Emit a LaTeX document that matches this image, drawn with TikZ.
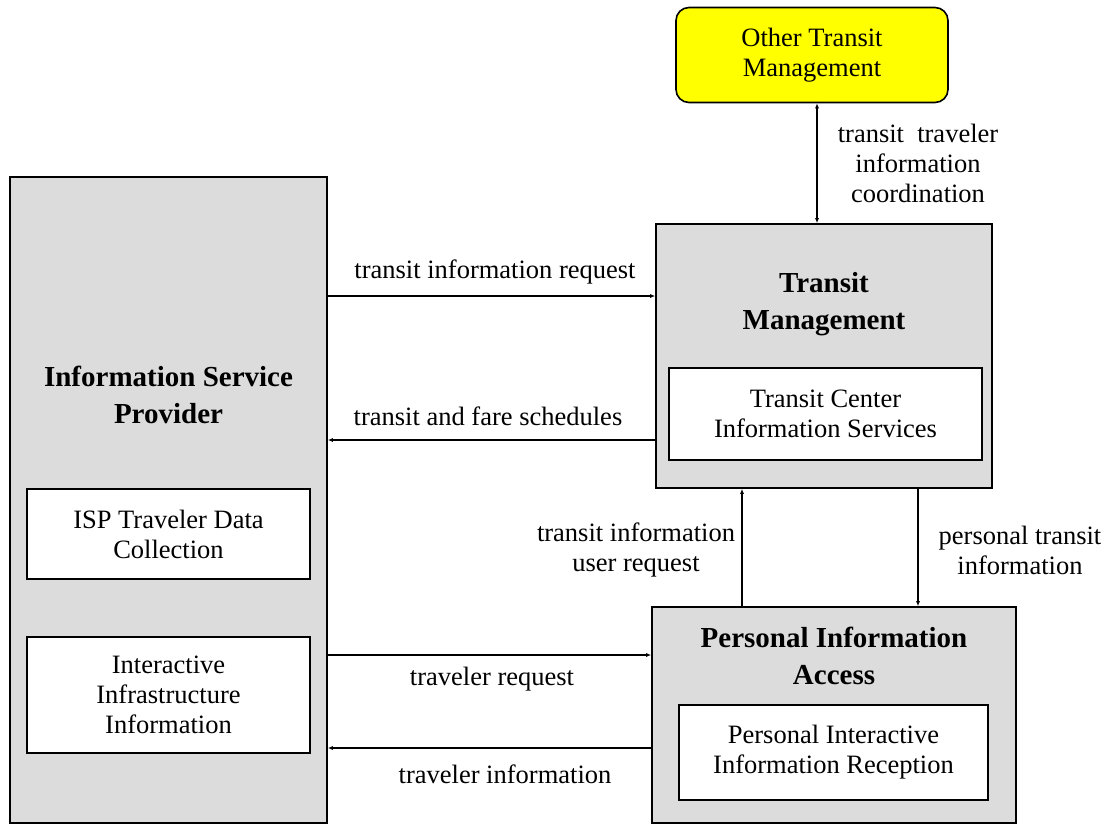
\documentclass[tikz,border=0pt]{standalone}
\usepackage{fontspec}
\setmainfont{Liberation Serif}
\usetikzlibrary{arrows.meta}

\definecolor{boxgray}{RGB}{220,220,220}
\definecolor{ext}{RGB}{255,255,0}

\tikzset{
    block/.style={draw=black, line width=1.6pt, fill=boxgray, inner sep=0pt},
    subblock/.style={draw=black, line width=1.3pt, fill=white, inner sep=0pt,
        align=center, font=\fontsize{26.5}{30}\selectfont},
    title/.style={align=center, font=\fontsize{29}{37}\selectfont\bfseries},
    flowlabel/.style={align=center, font=\fontsize{26.5}{30}\selectfont},
    flow/.style={line width=1.2pt},
}

\begin{document}
\begin{tikzpicture}[x=1pt, y=-1pt, >={Latex[length=5pt,width=4pt]}]
        \useasboundingbox (0,0) rectangle (1112,825);

        % levels of the arrows
        \coordinate (R1) at (0, 296);
        \coordinate (R2) at (0, 440);
        \coordinate (R3) at (0, 655);
        \coordinate (R4) at (0, 748);
        \coordinate (C1) at (817, 0);
        \coordinate (C2) at (742, 0);
        \coordinate (C3) at (918, 0);

        % boxes
        \node[block, minimum width=317, minimum height=646] (isp) at (168.5, 500) {};
        \node[block, minimum width=336, minimum height=264] (tm)  at (824, 356) {};
        \node[block, minimum width=364, minimum height=216] (pia) at (834, 715) {};
        \node[draw=black, line width=1.6pt, fill=ext, rounded corners=13pt,
              minimum width=272, minimum height=95, align=center, inner sep=0pt,
              font=\fontsize{26.5}{30}\selectfont] (otm) at (812, 55)
              {Other Transit\\Management};

        \node[subblock, minimum width=283, minimum height=90]  (ispdata) at (168.5, 534)
              {ISP Traveler Data\\Collection};
        \node[subblock, minimum width=283, minimum height=116] (iii) at (168.5, 695)
              {Interactive\\Infrastructure\\Information};
        \node[subblock, minimum width=313, minimum height=92]  (tcis) at (825.5, 414)
              {Transit Center\\Information Services};
        \node[subblock, minimum width=309, minimum height=95]  (pir) at (833.5, 752.5)
              {Personal Interactive\\Information Reception};

        \node[title] (isptitle) at (168.5, 395) {Information Service\\Provider};
        \node[title] (tmtitle)  at (824, 304.5) {Transit\\Management};
        \node[title] (piatitle) at (834, 656) {Personal Information\\Access};

        % flows
        \draw[flow, <->] (otm.south -| C1) -- (tm.north -| C1);
        \node[flowlabel] (l0) at (918, 163) {transit\ \ traveler\\information\\coordination};

        \draw[flow, ->] (isp.east |- R1) -- (tm.west |- R1);
        \node[flowlabel] (l1) at (495, 272) {transit information request};

        \draw[flow, ->] (tm.west |- R2) -- (isp.east |- R2);
        \node[flowlabel] (l2) at (488, 416) {transit and fare schedules};

        \draw[flow, ->] (pia.north -| C2) -- (tm.south -| C2);
        \node[flowlabel] (l3) at (636, 550) {transit information\\user request};

        \draw[flow, ->] (tm.south -| C3) -- (pia.north -| C3);
        \node[flowlabel] (l4) at (1020, 550) {personal transit\\information};

        \draw[flow, ->] (isp.east |- R3) -- (pia.west |- R3);
        \node[flowlabel] (l5) at (492, 679) {traveler request};

        \draw[flow, ->] (pia.west |- R4) -- (isp.east |- R4);
        \node[flowlabel] (l6) at (505, 774) {traveler information};
    \end{tikzpicture}
\end{document}
